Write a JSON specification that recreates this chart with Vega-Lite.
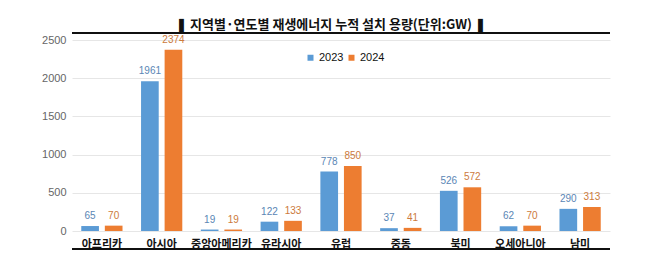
{
  "$schema": "https://vega.github.io/schema/vega-lite/v6.json",
  "autosize": {"type": "none"},
  "width": 538,
  "height": 191,
  "padding": {"left": 72, "top": 40, "right": 48, "bottom": 43},
  "background": "white",
  "config": {
    "font": "Noto Sans CJK KR",
    "view": {"stroke": null}
  },
  "title": {
    "text": "❚ 지역별·연도별 재생에너지 누적 설치 용량(단위:GW) ❚",
    "fontSize": 13,
    "fontWeight": "bold",
    "color": "#111111",
    "anchor": "middle",
    "dx": -10,
    "offset": 0,
    "font": "Noto Sans CJK KR"
  },
  "data": {
    "values": [
      {"region": "아프리카", "year": "2023", "value": 65},
      {"region": "아프리카", "year": "2024", "value": 70},
      {"region": "아시아", "year": "2023", "value": 1961},
      {"region": "아시아", "year": "2024", "value": 2374},
      {"region": "중앙아메리카", "year": "2023", "value": 19},
      {"region": "중앙아메리카", "year": "2024", "value": 19},
      {"region": "유라시아", "year": "2023", "value": 122},
      {"region": "유라시아", "year": "2024", "value": 133},
      {"region": "유럽", "year": "2023", "value": 778},
      {"region": "유럽", "year": "2024", "value": 850},
      {"region": "중동", "year": "2023", "value": 37},
      {"region": "중동", "year": "2024", "value": 41},
      {"region": "북미", "year": "2023", "value": 526},
      {"region": "북미", "year": "2024", "value": 572},
      {"region": "오세아니아", "year": "2023", "value": 62},
      {"region": "오세아니아", "year": "2024", "value": 70},
      {"region": "남미", "year": "2023", "value": 290},
      {"region": "남미", "year": "2024", "value": 313}
    ]
  },
  "encoding": {
    "x": {
      "field": "region",
      "type": "nominal",
      "sort": null,
      "scale": {"paddingInner": 0.31, "paddingOuter": 0.155},
      "axis": {
        "title": null,
        "labelAngle": 0,
        "labelFontSize": 11,
        "labelFontWeight": "bold",
        "labelColor": "#111111",
        "labelPadding": 7,
        "ticks": false,
        "domain": false
      }
    },
    "xOffset": {
      "field": "year",
      "type": "nominal",
      "scale": {"paddingInner": 0.25}
    },
    "y": {
      "field": "value",
      "type": "quantitative",
      "scale": {"domain": [0, 2500]},
      "axis": {
        "title": null,
        "values": [0, 500, 1000, 1500, 2000, 2500],
        "format": "d",
        "labelFontSize": 11,
        "labelColor": "#666666",
        "labelPadding": 6,
        "labelFont": "Liberation Sans",
        "ticks": false,
        "domain": false,
        "gridColor": "#E6E6E6"
      }
    }
  },
  "layer": [
    {
      "mark": {"type": "bar"},
      "encoding": {
        "color": {
          "field": "year",
          "type": "nominal",
          "scale": {"domain": ["2023", "2024"], "range": ["#5B9BD5", "#ED7D31"]},
          "legend": {
            "title": null,
            "orient": "none",
            "direction": "horizontal",
            "legendX": 233,
            "legendY": 12,
            "symbolType": "square",
            "symbolSize": 36,
            "labelFontSize": 11,
            "labelColor": "#111111",
            "labelFont": "Liberation Sans",
            "columnPadding": 2,
            "labelOffset": 3
          }
        }
      }
    },
    {
      "mark": {"type": "text", "baseline": "bottom", "dy": -5, "fontSize": 10, "font": "Liberation Sans"},
      "encoding": {
        "text": {"field": "value", "type": "quantitative"},
        "color": {
          "condition": {"test": "datum.year == '2023'", "value": "#5A86B5"},
          "value": "#CC7A3C"
        }
      }
    },
    {
      "mark": {"type": "rule", "color": "#111111", "strokeWidth": 1.5, "clip": false},
      "encoding": {"y": {"datum": 2592}, "x": null, "xOffset": null}
    },
    {
      "mark": {"type": "rule", "color": "#111111", "strokeWidth": 1.5, "clip": false},
      "encoding": {"y": {"datum": -236}, "x": null, "xOffset": null}
    }
  ]
}
